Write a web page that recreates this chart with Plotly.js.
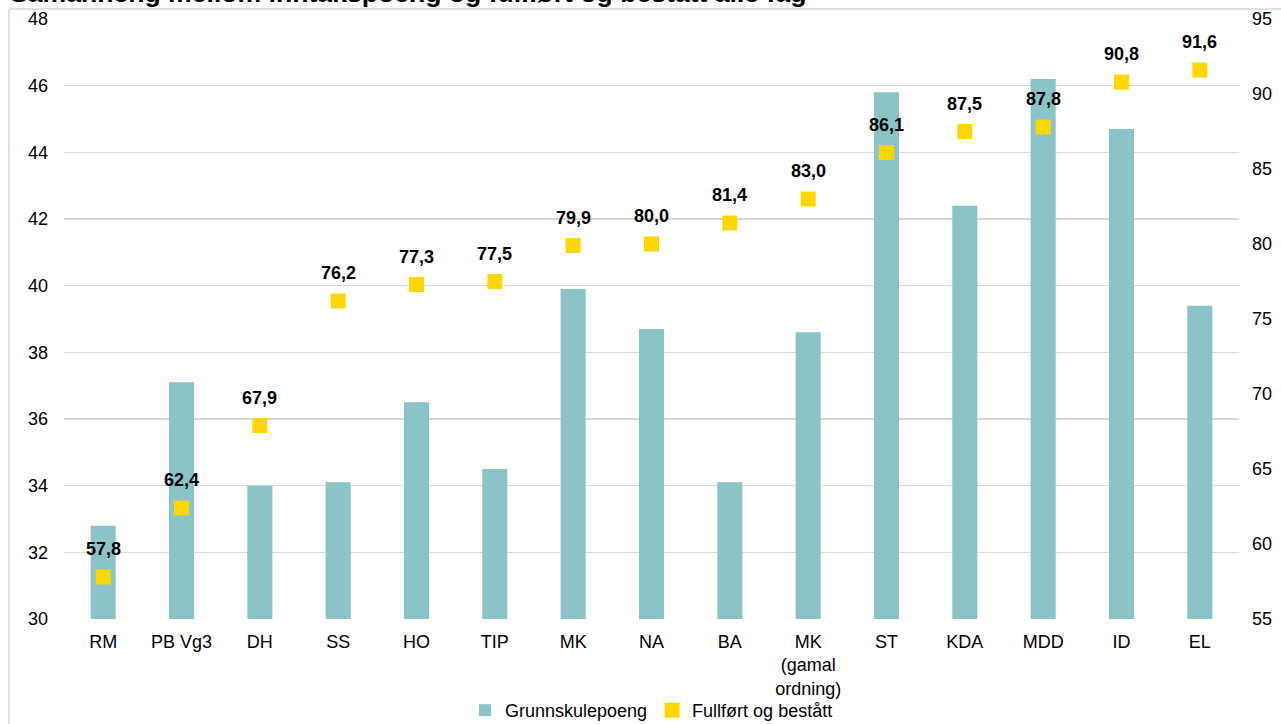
<!DOCTYPE html>
<html>
<head>
<meta charset="utf-8">
<script src="https://cdn.plot.ly/plotly-3.0.1.min.js"></script>
<style>
html,body{margin:0;padding:0;background:#fff;}
#chart{width:1281px;height:724px;}
</style>
</head>
<body>
<div id="chart"></div>
<script>
const categories = ["RM","PB Vg3","DH","SS","HO","TIP","MK","NA","BA","MK<br>(gamal<br>ordning)","ST","KDA","MDD","ID","EL"];
const grunnskulepoeng = [32.8,37.1,34.0,34.1,36.5,34.5,39.9,38.7,34.1,38.6,45.8,42.4,46.2,44.7,39.4];
const fullfortBestatt = [57.8,62.4,67.9,76.2,77.3,77.5,79.9,80.0,81.4,83.0,86.1,87.5,87.8,90.8,91.6];
const leftTicks = [30,32,34,36,38,40,42,44,46,48];
const rightTicks = [55,60,65,70,75,80,85,90,95];

const fmt = v => v.toFixed(1).replace('.', ',');
const font = 'Liberation Sans, Arial, sans-serif';

const traces = [
  {
    type: 'bar',
    name: 'Grunnskulepoeng',
    x: categories,
    y: grunnskulepoeng,
    marker: {color: '#8AC4C7'},
    yaxis: 'y',
    hoverinfo: 'skip'
  },
  {
    type: 'scatter',
    mode: 'markers',
    name: 'Fullført og bestått',
    x: categories,
    y: fullfortBestatt,
    yaxis: 'y2',
    marker: {symbol: 'square', size: 15, color: '#FFD700'},
    cliponaxis: false,
    hoverinfo: 'skip'
  }
];

const PX = 1175, PY = 600; // plot area size in px

const labelAnnotations = categories.map((c, i) => ({
  x: c, y: fullfortBestatt[i], xref: 'x', yref: 'y2',
  text: '<b>' + fmt(fullfortBestatt[i]) + '</b>',
  showarrow: false, yanchor: 'middle', xanchor: 'center', yshift: 28,
  font: {family: font, size: 18, color: '#000'}
}));

const layout = {
  width: 1281, height: 724,
  margin: {l: 64, r: 42, t: 19, b: 105, autoexpand: false},
  paper_bgcolor: '#fff', plot_bgcolor: '#fff',
  font: {family: font, size: 18, color: '#000'},
  bargap: 0.68,
  showlegend: true,
  legend: {
    orientation: 'h', x: 0.5, xanchor: 'center', y: -(692 - 619) / PY, yanchor: 'top',
    font: {family: font, size: 18, color: '#000'},
    bgcolor: 'rgba(0,0,0,0)',
    itemwidth: 30, traceorder: 'normal', tracegroupgap: 0
  },
  xaxis: {
    type: 'category', range: [-0.5, categories.length - 0.5],
    tickfont: {family: font, size: 18, color: '#000'},
    showgrid: false, showline: false, ticks: '', ticklen: 0,
    tickangle: 0, zeroline: false, automargin: false, ticklabelstandoff: 10
  },
  yaxis: {
    range: [30, 48], tickvals: leftTicks,
    tickfont: {family: font, size: 18, color: '#000'},
    showgrid: true, gridcolor: '#D9D9D9', gridwidth: 1.5,
    zeroline: false, showline: false, ticks: '', ticklabelstandoff: 15,
    automargin: false, fixedrange: true
  },
  yaxis2: {
    range: [55, 95], tickvals: rightTicks,
    overlaying: 'y', side: 'right',
    tickfont: {family: font, size: 18, color: '#000'},
    showgrid: false, zeroline: false, showline: false, ticks: '', ticklabelstandoff: 12,
    automargin: false, fixedrange: true
  },
  annotations: [
    {
      text: '<b>Samanheng mellom inntakspoeng og fullført og bestått alle fag</b>',
      xref: 'paper', yref: 'paper',
      x: (8 - 64) / PX, xanchor: 'left',
      y: (619 - 10) / PY, yanchor: 'bottom',
      showarrow: false,
      font: {family: font, size: 26.6, color: '#000'}
    }
  ].concat(labelAnnotations),
  shapes: [
    {type: 'line', xref: 'paper', yref: 'paper', x0: (9 - 64) / PX, x1: (1290 - 64) / PX, y0: (619 - 9) / PY, y1: (619 - 9) / PY, line: {color: '#D9D9D9', width: 1.5}},
    {type: 'line', xref: 'paper', yref: 'paper', x0: (9 - 64) / PX, x1: (9 - 64) / PX, y0: (619 - 9) / PY, y1: (619 - 730) / PY, line: {color: '#D9D9D9', width: 1.5}}
  ]
};

Plotly.newPlot('chart', traces, layout, {displayModeBar: false, staticPlot: true});
</script>
</body>
</html>
